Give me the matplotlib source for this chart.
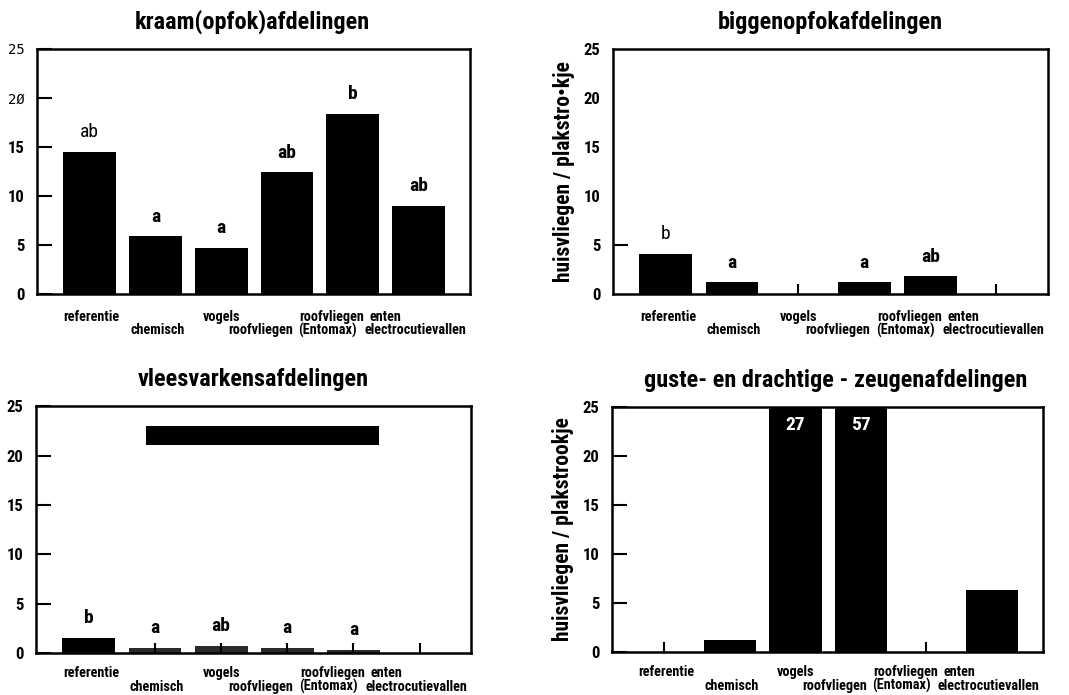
import matplotlib
matplotlib.use("Agg")
import matplotlib.pyplot as plt
from matplotlib import font_manager
import numpy as np

# condensed bold face if one is installed
fonts = font_manager.fontManager.ttflist
names = {f.name for f in fonts}
fam = 'Liberation Sans'
stretch = 'normal'
for cand in ['Roboto Condensed', 'Liberation Sans Narrow', 'Arial Narrow', 'Open Sans Condensed']:
    if cand in names:
        fam = cand
        break
else:
    if any(f.name == 'DejaVu Sans' and f.stretch == 'condensed' for f in fonts):
        fam = 'DejaVu Sans'
        stretch = 'condensed'
plt.rcParams['font.family'] = [fam, 'DejaVu Sans']
plt.rcParams['font.stretch'] = stretch
narrow = fam != 'Liberation Sans'

# data
categories = ['referentie', 'chemisch', 'vogels', 'roofvliegen', 'roofvliegen (Entomax)', 'enten electrocutievallen']
titles = ['kraam(opfok)afdelingen', 'biggenopfokafdelingen',
          'vleesvarkensafdelingen', 'guste- en drachtige - zeugenafdelingen']
values_kraam = [14.5, 5.9, 4.7, 12.4, 18.4, 9.0]
values_biggen = [4.1, 1.2, 0, 1.2, 1.8, 0]
values_vlees = [1.5, 0.5, 0.7, 0.5, 0.35, 0]
values_zeugen = [0, 1.2, 27, 57, 0, 6.3]
letters_kraam = ['ab', 'a', 'a', 'ab', 'b', 'ab']
letters_biggen = ['b', 'a', '', 'a', 'ab', '']
letters_vlees = ['b', 'a', 'ab', 'a', 'a', '']
letters_zeugen = ['', '', '', '', '', '']
yticks = [0, 5, 10, 15, 20, 25]
ylabel = ['', 'huisvliegen / plakstro\u2022kje', '', 'huisvliegen / plakstrookje']
ytick_labels_kraam = ['0', '5', '10', '15', '2\u00d8', '25']
# blacked-out box in vleesvarkens panel
blackout_x = [0.86, 4.39]
blackout_y = [21.05, 23.0]

# x-axis text labels (staggered two rows as in the original)
xlab_text = ['referentie', 'chemisch', 'vogels', 'roofvliegen', 'roofvliegen', '(Entomax)', 'enten', 'electrocutievallen']
xlab_pos = [0.03, 1.03, 2.0, 2.6, 3.68, 3.62, 4.5, 4.95]
xlab_row = [0, 1, 0, 1, 0, 1, 0, 1]

fig = plt.figure(figsize=(10.69, 6.95), dpi=100)
rects = [[0.0346, 0.577, 0.405, 0.3525], [0.5734, 0.577, 0.407, 0.3525],
         [0.0337, 0.0604, 0.407, 0.355], [0.5725, 0.0619, 0.403, 0.3525]]
all_vals = [values_kraam, values_biggen, values_vlees, values_zeugen]
all_lets = [letters_kraam, letters_biggen, letters_vlees, letters_zeugen]
thin_letters = [{0}, {0}, set(), set()]
title_x = [0.497, 0.5, 0.5, 0.52]
row_y = [(-0.094, -0.147), (-0.094, -0.147), (-0.082, -0.137), (-0.082, -0.137)]

xl_size = 10.3 if narrow else 8.3
title_size = 17.5 if narrow else 15

x = np.arange(len(categories))
for i in range(4):
    ax = fig.add_axes(rects[i])
    vals = all_vals[i]
    col = 'black' if i != 2 else ['black'] + ['#2a2a2a'] * 5
    ax.bar(x, vals, width=0.8, color=col)
    ax.set_xlim(-0.8, 5.78)
    ax.set_ylim(0, 25)
    ax.set_yticks(yticks)
    if i == 0:
        ax.set_yticklabels(ytick_labels_kraam)
    ax.set_xticks(x)
    ax.set_xticklabels([])
    ax.tick_params(axis='y', direction='in', length=11, width=1.5, labelsize=12, pad=9)
    ax.tick_params(axis='x', direction='in', length=7, width=1.5)
    for t in ax.get_yticklabels():
        if i == 0 and t.get_text() in ('25', '2\u00d8'):
            t.set_fontweight('normal')
            t.set_fontfamily('DejaVu Sans Mono')
            t.set_fontsize(10)
        else:
            t.set_fontweight('bold')
    if i == 1:
        for k, tk in enumerate(ax.yaxis.get_major_ticks()):
            if yticks[k] != 5:
                tk.tick1line.set_visible(False)
    for s in ax.spines.values():
        s.set_linewidth(1.8)
    for k, let in enumerate(all_lets[i]):
        if let:
            ax.text(x[k], vals[k] + 2.0, let, ha='center', va='center', fontsize=14,
                    fontweight='normal' if k in thin_letters[i] else 'bold')
    if i == 3:
        for k, v in enumerate(vals):
            if v > 25:
                ax.text(x[k], 23.2, str(v), ha='center', va='center', color='white',
                        fontsize=14, fontweight='bold')
    if i == 2:
        ax.fill_between(blackout_x, blackout_y[0], blackout_y[1], color='black', lw=0)
    if ylabel[i]:
        ax.set_ylabel(ylabel[i], fontsize=15.5, fontweight='bold', labelpad=6)
    ax.text(title_x[i], 1.11, titles[i], transform=ax.transAxes, ha='center', va='center',
            fontsize=title_size, fontweight='bold')
    tr = ax.get_xaxis_transform()
    for t, p, r in zip(xlab_text, xlab_pos, xlab_row):
        ax.text(p, row_y[i][r], t, transform=tr, ha='center', va='center',
                fontsize=xl_size, fontweight='bold')

fig.savefig('out.png', dpi=100)
